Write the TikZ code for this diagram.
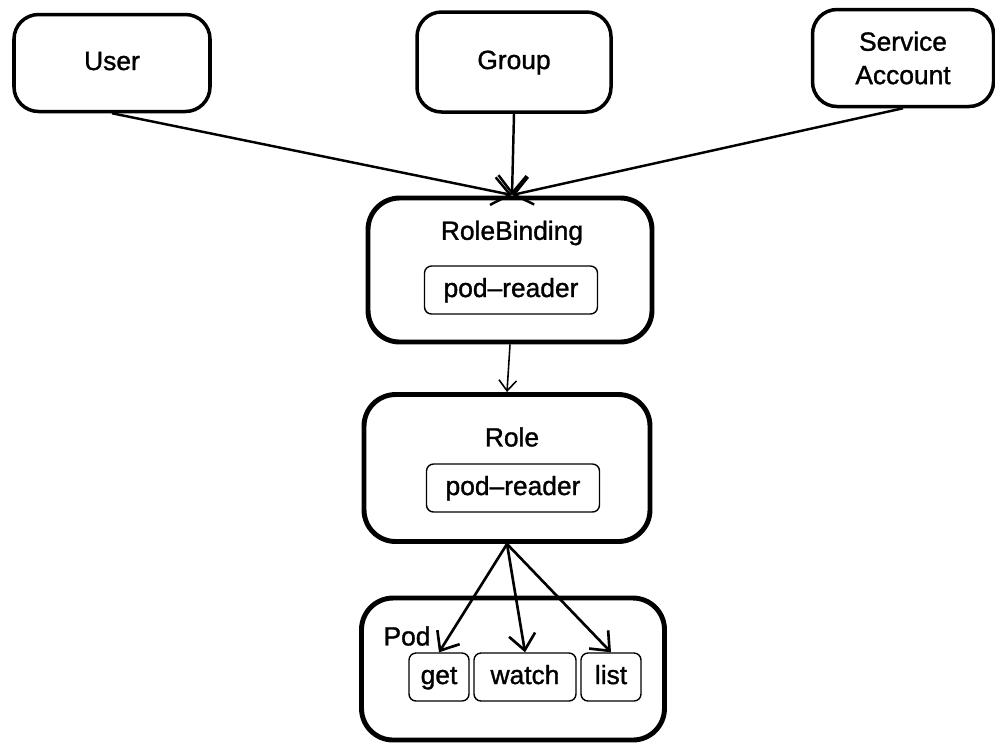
\documentclass[tikz,border=0pt]{standalone}
\usepackage{fontspec}
\setmainfont{Liberation Sans}[FakeBold=1.2]
\usetikzlibrary{arrows.meta}

\begin{document}
\begin{tikzpicture}[
    font=\fontsize{15}{19}\selectfont,
    topbox/.style={draw, line width=2pt, rounded corners=14pt, align=center},
    bigbox/.style={draw, line width=2.8pt, rounded corners=18pt},
    tagbox/.style={draw, line width=0.8pt, rounded corners=4pt, minimum height=0.96cm, text height=11pt, text depth=3pt},
    bind/.style={-{Straight Barb[length=10pt,width=16pt]}, line width=1.4pt},
    grant/.style={-{Straight Barb[length=9pt,width=15pt]}, line width=1.5pt}
]

    \useasboundingbox (0,0) rectangle (19.9,-14.88);

    % subjects
    \node [topbox, minimum width=3.92cm, minimum height=1.94cm, text height=11pt, text depth=3pt] (user) at (2.24,-1.26) {User};
    \node [topbox, minimum width=3.88cm, minimum height=2cm, text height=11pt, text depth=3pt] (group) at (10.28,-1.24) {Group};
    \node [topbox, minimum width=3.62cm, minimum height=1.94cm] (sa) at (18.06,-1.16) {Service\\Account};

    % binding and role
    \node [bigbox, minimum width=5.68cm, minimum height=2.88cm] (rb) at (10.2,-5.4) {};
    \node (rbtitle) at (10.24,-4.66) {RoleBinding};
    \node [tagbox, minimum width=3.46cm] (rbref) at (10.22,-5.8) {pod--reader};

    \node [bigbox, minimum width=5.72cm, minimum height=2.94cm] (role) at (10.14,-9.36) {};
    \node (roletitle) at (10.24,-8.74) {Role};
    \node [tagbox, minimum width=3.46cm] (roleref) at (10.26,-9.76) {pod--reader};

    % resource
    \node [bigbox, minimum width=6.06cm, minimum height=2.84cm] (pod) at (10.26,-13.38) {};
    \node (podtitle) at (8.14,-12.72) {Pod};
    \node [tagbox, minimum width=1.2cm] (get) at (8.78,-13.54) {get};
    \node [tagbox, minimum width=2.04cm] (watch) at (10.5,-13.54) {watch};
    \node [tagbox, minimum width=1.2cm] (list) at (12.22,-13.54) {list};

    \coordinate (rbtop) at (10.24,-3.9);

    \draw [bind] (user.south) -- (rbtop);
    \draw [bind] (group.south) -- (rbtop);
    \draw [bind] (sa.south) -- (rbtop);

    \draw [-{Straight Barb[length=6pt,width=10pt]}, line width=0.9pt] (rb.south) -- (role.north);

    \foreach \v in {get,watch,list}
    {
        \draw [grant] (role.south) -- (\v.north);
    }

\end{tikzpicture}
\end{document}
